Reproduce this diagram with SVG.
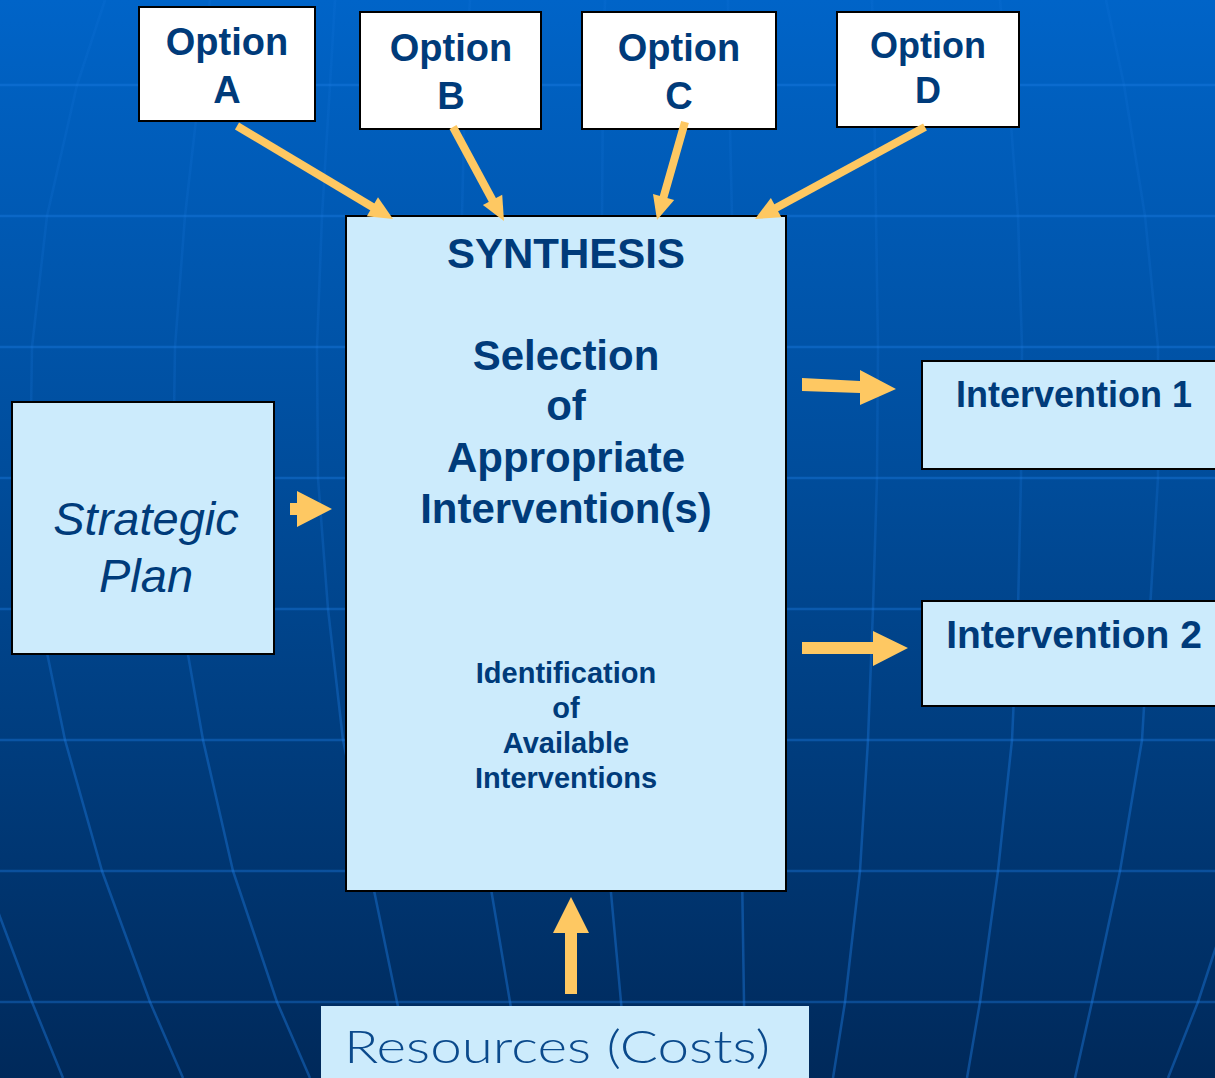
<svg xmlns="http://www.w3.org/2000/svg" width="1215" height="1078" viewBox="0 0 1215 1078">
<defs>
<linearGradient id="bg" x1="0" y1="0" x2="0" y2="1">
<stop offset="0" stop-color="#0064c8"/>
<stop offset="0.45" stop-color="#004c9a"/>
<stop offset="1" stop-color="#00295a"/>
</linearGradient>
<linearGradient id="mer" gradientUnits="userSpaceOnUse" x1="0" y1="0" x2="0" y2="1078">
<stop offset="0" stop-color="#1e7ee6" stop-opacity="0.12"/>
<stop offset="0.45" stop-color="#1e7ee6" stop-opacity="0.2"/>
<stop offset="0.7" stop-color="#1e7ee6" stop-opacity="0.38"/>
<stop offset="1" stop-color="#1e7ee6" stop-opacity="0.42"/>
</linearGradient>
<style>
.grid{fill:none;stroke:#1e7ee6;stroke-opacity:0.38;stroke-width:2.5}
.mer{fill:none;stroke:url(#mer);stroke-width:2.5;stroke-linejoin:round}
.opt{fill:#ffffff;stroke:#000000;stroke-width:2}
.lb{fill:#ccebfc;stroke:#000000;stroke-width:2}
.t{font-family:"Liberation Sans",Arial,sans-serif;font-weight:bold;fill:#003b7a;text-anchor:middle}
.ti{font-family:"Liberation Sans",Arial,sans-serif;font-style:italic;fill:#003b7a;text-anchor:middle}
.shaft{stroke:#fec862;stroke-width:8;fill:none}
.head{fill:#fec862}
</style>
</defs>
<rect x="0" y="0" width="1215" height="1078" fill="url(#bg)"/>
<g id="background-grid">
<path class="grid" d="M0 85H1215M0 216H1215M0 347H1215M0 478H1215M0 609H1215M0 740H1215M0 871H1215M0 1002H1215"/>
<path class="mer" d="M-20 860L0 917L32 1002L63 1078"/>
<path class="mer" d="M105 0L77 85L47 216L32 347L30 478L38 609L65 740L102 871L150 1002L183 1078"/>
<path class="mer" d="M210 0L200 85L185 216L175 347L173 478L180 609L203 740L233 871L277 1002L310 1078"/>
<path class="mer" d="M335 0L330 85L322 216L317 347L318 478L328 609L343 740L370 871L397 1002L415 1078"/>
<path class="mer" d="M470 0L465 85L462 216L460 347L460 478L462 609L470 740L488 871L510 1002L522 1078"/>
<path class="mer" d="M605 0L603 85L602 216L602 347L602 478L603 609L605 740L609 871L621 1002L628 1078"/>
<path class="mer" d="M728 0L729 85L732 216L735 347L737 478L739 609L740 740L742 871L744 1002L745 1078"/>
<path class="mer" d="M872 0L874 85L876 216L878 347L877 478L873 609L868 740L860 871L845 1002L833 1078"/>
<path class="mer" d="M1000 0L1008 85L1018 216L1022 347L1021 478L1018 609L1012 740L998 871L980 1002L967 1078"/>
<path class="mer" d="M1106 0L1124 85L1145 216L1158 347L1158 478L1150 609L1142 740L1120 871L1092 1002L1075 1078"/>
<path class="mer" d="M1240 880L1215 950L1198 1002L1168 1078"/>
</g>
<g id="node-optionA">
<rect class="opt" x="139" y="7" width="176" height="114"/>
<text class="t" x="227" y="55" font-size="38">Option</text>
<text class="t" x="227" y="103" font-size="38">A</text>
</g>
<g id="node-optionB">
<rect class="opt" x="360" y="12" width="181" height="117"/>
<text class="t" x="451" y="61" font-size="38">Option</text>
<text class="t" x="451" y="109" font-size="38">B</text>
</g>
<g id="node-optionC">
<rect class="opt" x="582" y="12" width="194" height="117"/>
<text class="t" x="679" y="61" font-size="38">Option</text>
<text class="t" x="679" y="109" font-size="38">C</text>
</g>
<g id="node-optionD">
<rect class="opt" x="837" y="12" width="182" height="115"/>
<text class="t" x="928" y="58" font-size="36">Option</text>
<text class="t" x="928" y="103" font-size="36">D</text>
</g>
<g id="node-synthesis">
<rect class="lb" x="346" y="216" width="440" height="675"/>
<text class="t" x="566" y="268" font-size="42">SYNTHESIS</text>
<text class="t" x="566" y="370" font-size="42">Selection</text>
<text class="t" x="566" y="420" font-size="42">of</text>
<text class="t" x="566" y="472" font-size="42">Appropriate</text>
<text class="t" x="566" y="523" font-size="42">Intervention(s)</text>
<text class="t" x="566" y="683" font-size="29">Identification</text>
<text class="t" x="566" y="718" font-size="29">of</text>
<text class="t" x="566" y="753" font-size="29">Available</text>
<text class="t" x="566" y="788" font-size="29">Interventions</text>
</g>
<g id="node-strategic-plan">
<rect class="lb" x="12" y="402" width="262" height="252"/>
<text class="ti" x="146" y="535" font-size="47">Strategic</text>
<text class="ti" x="146" y="592" font-size="47">Plan</text>
</g>
<g id="node-intervention1">
<rect class="lb" x="922" y="361" width="300" height="108"/>
<text class="t" x="1074" y="407" font-size="36">Intervention 1</text>
</g>
<g id="node-intervention2">
<rect class="lb" x="922" y="601" width="300" height="105"/>
<text class="t" x="1074" y="648" font-size="39">Intervention 2</text>
</g>
<g id="node-resources">
<rect x="321" y="1006" width="488" height="80" fill="#ccebfc"/>
<text x="344" y="1063" font-size="46" font-family="Lato, 'Open Sans', sans-serif" font-weight="300" fill="#0b4a8c" textLength="426" lengthAdjust="spacingAndGlyphs">Resources (Costs)</text>
</g>
<g id="connectors">
<line class="shaft" x1="237" y1="126" x2="375" y2="208.5"/>
<polygon class="head" points="393,219 366.8,216.2 378,197.3"/>
<line class="shaft" x1="453" y1="127" x2="494" y2="203"/>
<polygon class="head" points="504,221 482.9,205.1 502.2,194.7"/>
<line class="shaft" x1="685" y1="122" x2="663" y2="199"/>
<polygon class="head" points="657,220 653,193.9 674.2,199.9"/>
<line class="shaft" x1="925" y1="127" x2="774" y2="209"/>
<polygon class="head" points="755,219 770.9,198 781.3,217.3"/>
<polygon class="head" points="290,503 297,503 297,491 332,509 297,527 297,515 290,515"/>
<polygon class="head" points="802,378 860,381 860,370 896,389 860,405 860,393 802,391"/>
<polygon class="head" points="802,642 873,642 873,631 908,648 873,666 873,654 802,654"/>
<polygon class="head" points="565,994 565,933 553,933 571,897 589,933 577,933 577,994"/>
</g>
</svg>
